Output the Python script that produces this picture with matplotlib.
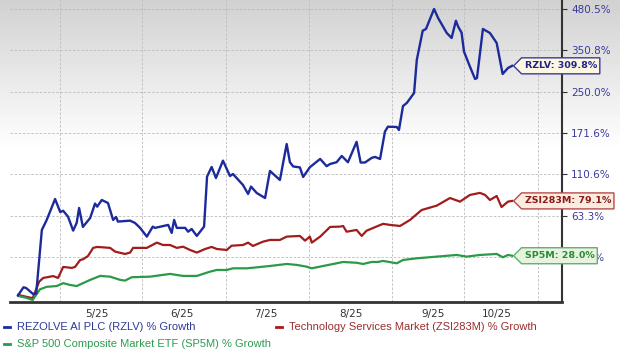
import numpy as np
import matplotlib.pyplot as plt
from matplotlib.patches import Polygon
from matplotlib.lines import Line2D
from matplotlib.transforms import IdentityTransform

# trading-day offset from the start of the window, % growth
rzlv_day = [0, 2, 3, 5.5, 6.7, 8.8, 10.6, 13.7, 15.6, 16.7, 18.5, 20.4, 21.7, 22.6, 24.0,
            26.7, 28.5, 29.3, 31.0, 33.3, 35.2, 36.3, 37.0, 41.5, 43.3, 45.2, 47.7, 49.9,
            50.7, 55.6, 56.9, 57.8, 58.8, 61.9, 63.0, 64.3, 66.2, 68.9, 70.0, 71.7, 73.3,
            75.9, 78.5, 79.6, 83.3, 85.2, 86.3, 88.4, 91.5, 93.3, 97.0, 99.5, 100.7, 101.9,
            104.4, 105.6, 108.1, 111.9, 114.3, 115.6, 118.0, 119.9, 122.2, 125.4, 126.9,
            128.5, 131.0, 132.2, 134.1, 135.9, 137.0, 140.3, 141.1, 142.6, 144.0, 146.7,
            147.7, 149.9, 151.1, 154.1, 155.6, 158.8, 160.6, 162.2, 163.0, 164.3, 165.2,
            167.4, 169.3, 170.0, 172.2, 174.8, 177.3, 179.5, 181.5, 183.0]
rzlv_pct = [0.5, 5.5, 5.0, 1.3, 1.5, 49.9, 59.4, 81.2, 67.3, 68.6, 62.6, 49.3, 56.5, 71.5, 52.7,
            61.3, 76.2, 72.9, 80.1, 76.8, 59.4, 62.3, 57.8, 58.7, 56.5, 51.8, 43.9, 53.0,
            51.8, 54.6, 47.2, 59.4, 51.8, 51.8, 48.3, 50.8, 44.5, 53.0, 107.8, 120.5, 106.1,
            129.2, 108.6, 111.2, 97.5, 86.9, 95.5, 88.0, 82.3, 115.2, 103.6, 153.8, 127.0, 121.2,
            119.9, 107.4, 120.2, 131.6, 121.6, 124.6, 127.0, 135.9, 127.0, 157.2, 126.6,
            126.6, 133.1, 134.5, 131.6, 173.8, 182.2, 181.7, 176.6, 220.4, 226.4, 246.9,
            324.7, 408.3, 413.6, 480.5, 449.4, 401.1, 386.0, 440.3, 421.5, 402.0, 346.9,
            307.7, 278.0, 280.3, 413.6, 401.1, 371.4, 289.8, 304.5, 309.8]

zsi_day = [0, 2.6, 5.4, 7.8, 9.3, 13.0, 14.8, 16.7, 19.9, 21.1, 23.0, 24.0, 25.9, 27.8, 29.3,
           34.1, 35.9, 39.6, 41.5, 42.6, 47.7, 51.4, 53.7, 56.3, 58.8, 61.1, 63.7, 66.2,
           69.3, 71.7, 73.6, 77.3, 79.1, 83.3, 85.2, 87.0, 90.7, 93.3, 97.0, 99.5, 104.4,
           106.3, 108.1, 108.8, 111.9, 115.6, 119.3, 120.4, 121.7, 125.4, 127.3, 129.1,
           133.3, 135.2, 137.8, 141.5, 145.2, 149.5, 155.1, 160.0, 163.7, 167.4, 171.1,
           173.0, 174.8, 177.3, 179.1, 181.5, 183.0]
zsi_pct = [0.7, -0.3, -1.3, 9.2, 11.7, 13.0, 11.7, 19.5, 18.8, 19.5, 24.7, 25.2, 27.8, 34.3, 35.1,
           34.3, 31.3, 29.4, 30.5, 34.3, 34.3, 38.7, 36.7, 36.7, 34.3, 35.3, 32.6, 30.5,
           33.4, 35.1, 33.4, 32.6, 36.1, 36.7, 38.7, 35.9, 39.5, 41.0, 41.0, 43.9, 44.5,
           40.4, 43.9, 38.7, 43.9, 52.7, 53.0, 53.6, 48.3, 49.9, 44.5, 49.2,
           53.6, 55.6, 54.6, 53.6, 59.4, 69.4, 74.0, 82.3, 78.3, 85.8, 88.1,
           85.8, 80.1, 84.6, 72.5, 78.3, 79.1]

sp5m_day = [0, 2.6, 5.4, 8.1, 10.6, 14.3, 16.7, 19.3, 21.7, 26.7, 30.4, 34.1, 37.8, 39.6, 42.1,
            48.9, 56.3, 61.1, 66.2, 71.1, 73.6, 77.3, 79.6, 84.7, 88.4, 93.3, 99.5, 103.2,
            106.9, 108.8, 113.0, 118.0, 120.4, 125.4, 127.8, 131.0, 133.3, 135.2, 140.3,
            142.6, 147.7, 155.1, 162.5, 166.2, 171.1, 177.3, 179.6, 181.5, 183.0]
sp5m_pct = [0.0, -0.9, -2.4, 4.2, 5.8, 6.3, 8.2, 7.0, 6.3, 10.4, 13.1, 12.6, 10.4, 9.9, 12.2,
            12.6, 14.5, 13.1, 13.1, 16.1, 17.3, 17.3, 18.5, 18.5, 19.2, 20.2, 21.7, 21.0,
            19.7, 18.5, 20.2, 22.2, 23.2, 22.6, 21.7, 23.2, 23.2, 24.0, 22.2,
            24.7, 26.0, 27.3, 28.6, 27.3, 28.6, 29.4, 26.8, 28.6, 28.0]

ytick_vals = [480.5, 350.8, 250.0, 171.6, 110.6, 63.3, 26.7]
month_labels = ['5/25', '6/25', '7/25', '8/25', '9/25', '10/25']
month_label_days = [29.3, 60.7, 91.9, 123.3, 153.7, 177.4]
month_grid_days = [15.6, 45.9, 77.0, 107.8, 138.5, 165.2, 192.6]

names = ['REZOLVE AI PLC (RZLV) % Growth',
         'Technology Services Market (ZSI283M) % Growth',
         'S&P 500 Composite Market ETF (SP5M) % Growth']

W, H = 620, 351
fig = plt.figure(figsize=(W / 100, H / 100), dpi=100)

# grey-to-white background fade at the top
bg = fig.add_axes([0, 0, 1, 1], zorder=-10)
rows = np.arange(H)
shade = 0.82 + 0.18 * np.clip(rows / 150.0, 0, 1)
bg.imshow(np.tile(shade[:, None], (1, 2)), cmap='gray', vmin=0, vmax=1,
          aspect='auto', extent=[0, 1, 0, 1])
bg.axis('off')

ax = fig.add_axes([10 / W, 49 / H, 552 / W, 302 / H])
ax.set_facecolor('none')
ax.set_yscale('function', functions=(lambda v: np.log1p(np.asarray(v) / 100.0),
                                     lambda t: np.expm1(np.asarray(t)) * 100.0))
ax.set_ylim(-3.6, 513.4)
ax.set_xlim(-3, 201.5)

blue, red, green = '#1c2a9c', '#a31c1c', '#2a9a48'
ax.plot(zsi_day, zsi_pct, color=red, lw=1.6, solid_joinstyle='round', zorder=3)
ax.plot(sp5m_day, sp5m_pct, color=green, lw=1.6, solid_joinstyle='round', zorder=3)
ax.plot(rzlv_day, rzlv_pct, color=blue, lw=1.7, solid_joinstyle='round', zorder=4)

ax.yaxis.tick_right()
ax.set_yticks(ytick_vals, [f'{v:.1f}%' for v in ytick_vals])
ax.yaxis.set_minor_locator(plt.NullLocator())
ax.tick_params(axis='y', which='major', direction='out', length=3.5, width=0.8,
               color='#333333', pad=3, labelsize=7.5, labelcolor='#3a3a9c')
ax.set_xticks(month_label_days, month_labels)
ax.set_xticks(month_grid_days, minor=True)
ax.tick_params(axis='x', which='both', length=0, labelsize=7.5, labelcolor='#333333', pad=5)
grid_kw = dict(color='#bcbcbc', lw=0.6, ls=(0, (3, 2)))
ax.yaxis.grid(True, **grid_kw)
ax.xaxis.grid(True, which='minor', **grid_kw)
ax.xaxis.grid(False, which='major')
ax.set_axisbelow(True)

for s in ['left', 'top']:
    ax.spines[s].set_visible(False)
ax.spines['bottom'].set_linewidth(2.0)
ax.spines['bottom'].set_color('#333333')
ax.spines['right'].set_linewidth(1.5)
ax.spines['right'].set_color('#333333')

# value tags at the end of each line
renderer = fig.canvas.get_renderer()


def tag(day, val, text, fc, ec, tc):
    x0, y0 = ax.transData.transform((day, val))
    tip = x0 + 1.5
    left = tip + 8
    t = fig.text(left + 3, y0, text, transform=IdentityTransform(), ha='left', va='center',
                 fontsize=6.8, fontweight='bold', color=tc, zorder=11)
    bb = t.get_window_extent(renderer)
    right = bb.x1 + 3
    poly = Polygon([(tip, y0), (left, y0 + 8), (right, y0 + 8), (right, y0 - 8), (left, y0 - 8)],
                   closed=True, transform=IdentityTransform(), facecolor=fc, edgecolor=ec,
                   lw=1.0, zorder=10)
    fig.add_artist(poly)


tag(rzlv_day[-1], rzlv_pct[-1], f'RZLV: {rzlv_pct[-1]:.1f}%', '#fbf7e2', '#3a3aa0', '#22228a')
tag(zsi_day[-1], zsi_pct[-1], f'ZSI283M: {zsi_pct[-1]:.1f}%', '#fbece0', '#b84a4a', '#8b1a1a')
tag(sp5m_day[-1], sp5m_pct[-1], f'SP5M: {sp5m_pct[-1]:.1f}%', '#e6f4de', '#62b06e', '#2a8a3a')

# legend
leg = [(names[0], blue, '#2d3a96', 4, 327),
       (names[1], red, '#9a2e2e', 276, 327),
       (names[2], green, '#2e9a50', 4, 344)]
for txt, lc, tc, px, py in leg:
    fig.add_artist(Line2D([px / W, (px + 6) / W], [1 - py / H, 1 - py / H], color=lc, lw=2.0,
                          transform=fig.transFigure))
    fig.text((px + 13) / W, 1 - py / H, txt, ha='left', va='center', fontsize=8,
             family='Liberation Sans', color=tc)

fig.savefig('out.png', dpi=100)
